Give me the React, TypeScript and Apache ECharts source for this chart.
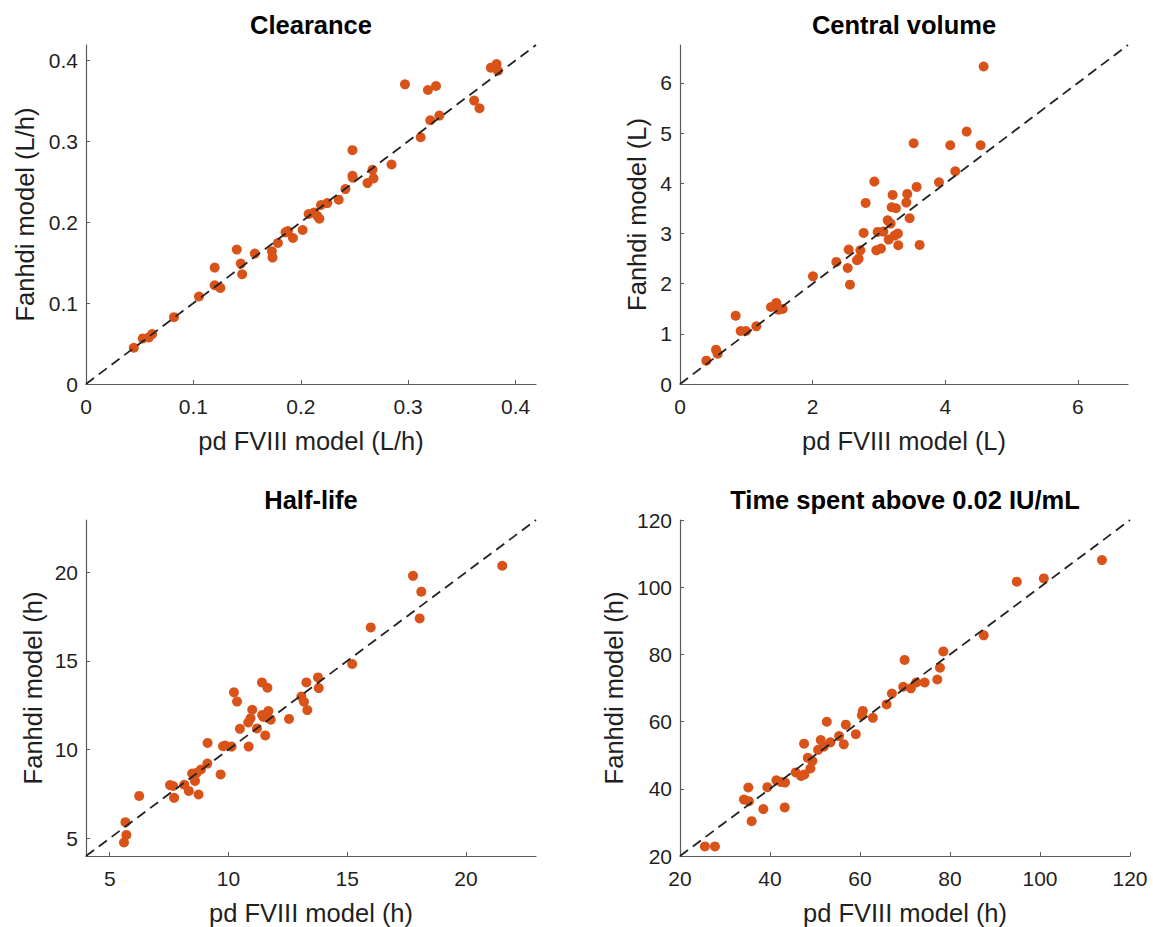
import React, { useEffect, useRef } from "react";
import * as echarts from "echarts";

// ---------- Data ----------
const titles = ["Clearance", "Central volume", "Half-life", "Time spent above 0.02 IU/mL"];
const xNames = ["pd FVIII model (L/h)", "pd FVIII model (L)", "pd FVIII model (h)", "pd FVIII model (h)"];
const yNames = ["Fanhdi model (L/h)", "Fanhdi model (L)", "Fanhdi model (h)", "Fanhdi model (h)"];

const clearanceX = [0.0445, 0.0529, 0.0585, 0.0616, 0.0819, 0.1052, 0.1198, 0.1198, 0.1251, 0.1404, 0.1441, 0.1454, 0.1572, 0.1731, 0.1737, 0.1787, 0.1858, 0.188, 0.1927, 0.2017, 0.2073, 0.2126, 0.2154, 0.2173, 0.2188, 0.2247, 0.2353, 0.2416, 0.2481, 0.2481, 0.2484, 0.2621, 0.2668, 0.2677, 0.2845, 0.297, 0.3116, 0.3184, 0.3206, 0.3259, 0.329, 0.3614, 0.3664, 0.377, 0.3823, 0.3835];
const clearanceY = [0.0448, 0.0563, 0.0576, 0.0617, 0.0826, 0.1081, 0.1439, 0.1221, 0.1188, 0.1661, 0.1488, 0.1357, 0.1612, 0.164, 0.1562, 0.1743, 0.1875, 0.1891, 0.1805, 0.1903, 0.2101, 0.2121, 0.2076, 0.2043, 0.2212, 0.2236, 0.2278, 0.2409, 0.289, 0.2573, 0.2549, 0.2483, 0.2647, 0.2541, 0.2713, 0.3704, 0.305, 0.3634, 0.326, 0.3683, 0.3318, 0.3503, 0.3408, 0.391, 0.3955, 0.3873];

const volumeX = [0.397, 0.543, 0.568, 0.839, 0.915, 0.995, 1.151, 1.372, 1.452, 1.487, 1.548, 2.005, 2.357, 2.528, 2.543, 2.563, 2.668, 2.693, 2.719, 2.769, 2.799, 2.93, 2.96, 2.98, 3.03, 3.065, 3.131, 3.146, 3.176, 3.191, 3.206, 3.256, 3.236, 3.286, 3.291, 3.412, 3.427, 3.462, 3.568, 3.523, 3.613, 3.905, 4.075, 4.151, 4.322, 4.533, 4.578];
const volumeY = [0.465, 0.684, 0.605, 1.362, 1.056, 1.056, 1.149, 1.535, 1.615, 1.482, 1.495, 2.146, 2.432, 2.312, 2.678, 1.98, 2.465, 2.498, 2.664, 3.01, 3.608, 4.033, 2.664, 3.03, 2.698, 3.037, 3.262, 2.877, 3.196, 3.522, 3.767, 3.502, 2.957, 2.997, 2.764, 3.615, 3.787, 3.302, 3.927, 4.797, 2.771, 4.02, 4.757, 4.239, 5.03, 4.757, 6.326];

const halfLifeX = [5.6, 5.7, 5.66, 6.24, 7.54, 7.67, 7.71, 8.14, 8.33, 8.47, 8.59, 8.66, 8.74, 8.84, 9.11, 9.12, 9.67, 9.77, 9.86, 10.13, 10.23, 10.36, 10.48, 10.83, 10.85, 10.93, 11.0, 11.2, 11.41, 11.42, 11.47, 11.55, 11.64, 11.68, 11.78, 12.55, 13.07, 13.18, 13.28, 13.32, 13.77, 13.8, 15.21, 15.99, 17.77, 18.05, 18.12, 21.53];
const halfLifeY = [4.76, 5.19, 5.91, 7.39, 8.0, 7.95, 7.28, 8.02, 7.67, 8.65, 8.23, 8.69, 7.47, 8.88, 9.21, 10.38, 8.6, 10.19, 10.23, 10.17, 13.23, 12.71, 11.17, 11.53, 10.17, 11.77, 12.25, 11.19, 13.79, 11.95, 11.84, 10.8, 13.49, 12.18, 11.69, 11.73, 12.99, 12.7, 13.79, 12.23, 14.07, 13.47, 14.83, 16.89, 19.8, 17.4, 18.91, 20.37];

const timeX = [25.53, 27.76, 34.21, 35.18, 35.32, 35.92, 38.52, 39.41, 41.41, 42.45, 43.34, 43.27, 45.71, 46.9, 47.64, 47.57, 48.39, 48.98, 49.42, 50.69, 51.28, 51.95, 52.62, 53.43, 55.36, 56.4, 56.85, 59.07, 60.41, 60.63, 62.86, 65.9, 67.09, 69.61, 69.91, 71.32, 72.5, 74.36, 77.18, 77.77, 78.52, 87.5, 94.84, 100.85, 113.77];
const timeY = [22.86, 22.86, 36.79, 40.39, 36.3, 30.36, 33.96, 40.49, 42.53, 42.04, 41.85, 34.45, 44.87, 43.8, 44.28, 53.44, 49.25, 46.04, 48.28, 51.59, 54.51, 52.56, 59.96, 53.83, 55.68, 53.24, 59.08, 56.26, 61.91, 63.17, 61.13, 65.12, 68.33, 70.38, 78.36, 69.89, 71.65, 71.65, 72.52, 76.03, 80.9, 85.67, 101.64, 102.61, 108.06];

const clearanceTicks = [0, 0.1, 0.2, 0.3, 0.4];
const volumeXTicks = [0, 2, 4, 6];
const volumeYTicks = [0, 1, 2, 3, 4, 5, 6];
const halfLifeTicks = [5, 10, 15, 20];
const timeTicks = [20, 40, 60, 80, 100, 120];

const axisLimits = [
  [0, 0.419],
  [0, 6.755],
  [4, 22.95],
  [20, 120],
];

const panelXs = [clearanceX, volumeX, halfLifeX, timeX];
const panelYs = [clearanceY, volumeY, halfLifeY, timeY];
const panelXTicks = [clearanceTicks, volumeXTicks, halfLifeTicks, timeTicks];
const panelYTicks = [clearanceTicks, volumeYTicks, halfLifeTicks, timeTicks];

// ---------- Layout ----------
const grids = [
  { left: 86, top: 45, width: 450, height: 339 },
  { left: 680, top: 45, width: 448, height: 339 },
  { left: 86, top: 520, width: 450, height: 340 },
  { left: 680, top: 520, width: 450, height: 339 },
];
const yNameGaps = [48, 30, 40, 53];
const FONT = "'Liberation Sans', Arial, Helvetica, sans-serif";
const TEXT = "#1f1f1f";
const AXIS = "#5a5a5a";

function makeAxis(i: number, isY: boolean) {
  const [min, max] = axisLimits[i];
  const ticks = isY ? panelYTicks[i] : panelXTicks[i];
  return {
    type: "value",
    gridIndex: i,
    min,
    max,
    name: isY ? yNames[i] : xNames[i],
    nameLocation: "middle",
    nameGap: isY ? yNameGaps[i] : 44,
    nameTextStyle: { fontSize: 25.5, color: TEXT, fontFamily: FONT },
    axisLine: { show: true, onZero: false, lineStyle: { color: AXIS, width: 1.2 } },
    axisTick: { show: true, inside: true, length: 4, customValues: ticks, lineStyle: { color: AXIS, width: 1 } },
    axisLabel: {
      customValues: ticks,
      fontSize: 21,
      color: TEXT,
      fontFamily: FONT,
      margin: isY ? 8 : 12,
    },
    splitLine: { show: false },
  };
}

export default function App() {
  const ref = useRef<HTMLDivElement>(null);
  useEffect(() => {
    if (!ref.current) return;
    const chart = echarts.init(ref.current, undefined, { renderer: "svg" });
    const series: any[] = [];
    for (let i = 0; i < 4; i++) {
      series.push({
        type: "scatter",
        xAxisIndex: i,
        yAxisIndex: i,
        symbol: "circle",
        symbolSize: 10,
        itemStyle: { color: "#D95319", opacity: 1 },
        data: panelXs[i].map((x, k) => [x, panelYs[i][k]]),
        z: 2,
      });
      const [mn, mx] = axisLimits[i];
      series.push({
        type: "line",
        xAxisIndex: i,
        yAxisIndex: i,
        showSymbol: false,
        symbol: "none",
        lineStyle: { color: "#222", width: 1.8, type: [10, 6] },
        data: [
          [mn, mn],
          [mx, mx],
        ],
        z: 3,
        silent: true,
      });
    }
    const titleCenters = [
      [311, 25],
      [904, 25],
      [311, 500],
      [905, 500],
    ];
    chart.setOption({
      animation: false,
      backgroundColor: "#ffffff",
      grid: grids.map((g) => ({ ...g, containLabel: false })),
      xAxis: [0, 1, 2, 3].map((i) => makeAxis(i, false)),
      yAxis: [0, 1, 2, 3].map((i) => makeAxis(i, true)),
      series,
      graphic: titles.map((t, i) => ({
        type: "text",
        x: titleCenters[i][0],
        y: titleCenters[i][1],
        style: {
          text: t,
          fontSize: 25.5,
          fontWeight: "bold",
          fontFamily: FONT,
          fill: "#000",
          align: "center",
          verticalAlign: "middle",
        },
      })),
    });
    return () => chart.dispose();
  }, []);
  return (
    <div
      ref={ref}
      style={{ position: "absolute", left: 0, top: 0, width: 1153, height: 927, background: "#fff" }}
    />
  );
}
